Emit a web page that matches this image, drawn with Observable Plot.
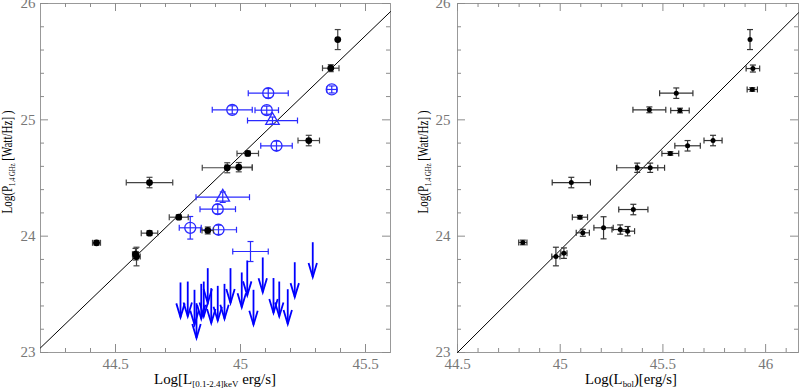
<!DOCTYPE html>
<html><head><meta charset="utf-8">
<script src="https://cdn.jsdelivr.net/npm/d3@7"></script>
<script src="https://cdn.jsdelivr.net/npm/@observablehq/plot@0.6"></script>
<style>
body{margin:0;background:#fff;}
#wrap{display:flex;width:807px;height:389px;overflow:hidden;}
#wrap svg{overflow:visible;}
</style></head><body><div id="wrap"></div>
<script>
// ---------- data: left panel (X-ray luminosity) ----------
const leftBlackX  = [45.389, 45.361, 45.273, 45.029, 44.947, 44.993, 44.636, 44.753, 44.636, 44.424, 44.580, 44.584, 44.869];
const leftBlackY  = [25.690, 25.444, 24.822, 24.711, 24.588, 24.593, 24.461, 24.163, 24.026, 23.943, 23.845, 23.825, 24.049];
const leftBlackXe = [0, 0.033, 0.043, 0.043, 0.100, 0.054, 0.093, 0.038, 0.033, 0.016, 0.012, 0.015, 0.023];
const leftBlackYe = [0.086, 0.030, 0.045, 0.020, 0.043, 0.040, 0.045, 0.020, 0.020, 0.020, 0.050, 0.080, 0.030];

const blueCircX  = [45.365, 45.111, 44.967, 45.105, 45.144, 44.909, 44.799, 44.912];
const blueCircY  = [25.261, 25.229, 25.086, 25.083, 24.777, 24.232, 24.072, 24.055];
const blueCircXe = [0.020, 0.080, 0.080, 0.047, 0.063, 0.071, 0.044, 0.072];
const blueCircYe = [0.030, 0.040, 0.035, 0.035, 0.040, 0.040, 0.097, 0.040];

const blueTriX  = [45.128, 44.929];
const blueTriY  = [24.994, 24.335];
const blueTriXe = [0.100, 0.107];
const blueTriYe = [0.030, 0.045];

const blueCrossX  = [45.040];
const blueCrossY  = [23.868];
const blueCrossXe = [0.071];
const blueCrossYe = [0.086];

const upperLimX = [44.760, 44.789, 44.816, 44.824, 44.843, 44.853, 44.869, 44.883, 44.909, 44.936, 44.960, 45.005, 45.027, 45.052, 45.089, 45.132, 45.155, 45.189, 45.217, 45.289];
const upperLimY = [23.602, 23.610, 23.539, 23.424, 23.590, 23.610, 23.725, 23.553, 23.573, 23.590, 23.725, 23.688, 23.791, 23.539, 23.817, 23.640, 23.610, 23.544, 23.776, 23.948];

const fitLeftX = [44.2, 45.6];
const fitLeftY = [23.04, 25.93];

// ---------- data: right panel (bolometric luminosity) ----------
const rightX  = [45.924, 45.938, 45.935, 45.565, 45.434, 45.583, 45.744, 45.620, 45.536, 45.375, 45.438, 45.054, 45.356, 45.096, 45.110, 45.211, 45.292, 45.328, 44.818, 44.979, 45.018];
const rightY  = [25.690, 25.441, 25.261, 25.229, 25.086, 25.080, 24.822, 24.777, 24.711, 24.588, 24.588, 24.461, 24.229, 24.163, 24.029, 24.072, 24.057, 24.043, 23.946, 23.825, 23.854];
const rightXe = [0, 0.033, 0.025, 0.081, 0.080, 0.045, 0.044, 0.062, 0.041, 0.100, 0.070, 0.093, 0.071, 0.037, 0.032, 0.047, 0.040, 0.034, 0.020, 0.020, 0.015];
const rightYe = [0.086, 0.030, 0.015, 0.045, 0.025, 0.020, 0.045, 0.045, 0.015, 0.040, 0.040, 0.045, 0.045, 0.015, 0.030, 0.095, 0.040, 0.040, 0.020, 0.080, 0.045];

const fitRightX = [44.5, 46.16];
const fitRightY = [23.0, 25.92];

// ---------- axes ----------
const leftXDomain = [44.2, 45.6];
const rightXDomain = [44.5, 46.16];
const yDomain = [23, 26];
const leftXMajor = [44.5, 45, 45.5];
const leftXMinor = [44.3, 44.4, 44.6, 44.7, 44.8, 44.9, 45.1, 45.2, 45.3, 45.4];
const rightXMajor = [44.5, 45, 45.5, 46];
const rightXMinor = [44.6, 44.7, 44.8, 44.9, 45.1, 45.2, 45.3, 45.4, 45.6, 45.7, 45.8, 45.9, 46.1];
const yMajor = [23, 24, 25, 26];
const yMinor = [23.2, 23.4, 23.6, 23.8, 24.2, 24.4, 24.6, 24.8, 25.2, 25.4, 25.6, 25.8];

const zip = (x, y, xe, ye) => x.map((v, i) => ({x: v, y: y[i], xe: xe ? xe[i] : 0, ye: ye ? ye[i] : 0}));

// custom glyphs
const rOf = s => Math.sqrt(s / Math.PI);
const capV = {draw(c, s) { const r = rOf(s); c.moveTo(0, -r); c.lineTo(0, r); }};
const capH = {draw(c, s) { const r = rOf(s); c.moveTo(-r, 0); c.lineTo(r, 0); }};
const vee  = {draw(c, s) { const r = rOf(s); c.moveTo(-0.3 * r, -r); c.lineTo(0, 0); c.lineTo(0.3 * r, -r); }};

function errMarks(rows, color, sw, cap) {
  const hx = rows.filter(d => d.xe > 0), vy = rows.filter(d => d.ye > 0);
  return [
    Plot.link(hx, {x1: d => d.x - d.xe, x2: d => d.x + d.xe, y1: "y", y2: "y", stroke: color, strokeWidth: sw}),
    Plot.link(vy, {x1: "x", x2: "x", y1: d => d.y - d.ye, y2: d => d.y + d.ye, stroke: color, strokeWidth: sw}),
    Plot.dot(hx.flatMap(d => [{x: d.x - d.xe, y: d.y}, {x: d.x + d.xe, y: d.y}]), {x: "x", y: "y", symbol: capV, r: cap, stroke: color, strokeWidth: sw, fill: "none"}),
    Plot.dot(vy.flatMap(d => [{x: d.x, y: d.y - d.ye}, {x: d.x, y: d.y + d.ye}]), {x: "x", y: "y", symbol: capH, r: cap, stroke: color, strokeWidth: sw, fill: "none"})
  ];
}

// frame with inward ticks on all four sides; pxX/pxY = pixels per data unit
function frameMarks(xDomain, xMajor, xMinor, yPad, pxX, pxY) {
  const g = "#8c8c8c", font = {fontFamily: "Liberation Serif", fontSize: 15};
  const [x0, x1] = xDomain, [y0, y1] = yDomain;
  const tx = (vals, yv, dir, len) => Plot.ruleX(vals, {x: d => d, y1: yv, y2: yv + dir * len / pxY, stroke: g, strokeWidth: 1});
  const ty = (vals, xv, dir, len) => Plot.ruleY(vals, {y: d => d, x1: xv, x2: xv + dir * len / pxX, stroke: g, strokeWidth: 1});
  return [
    Plot.frame({stroke: "#999"}),
    tx(xMajor, y0, 1, 8), tx(xMinor, y0, 1, 4),
    tx(xMajor, y1, -1, 8), tx(xMinor, y1, -1, 4),
    ty(yMajor, x0, 1, 8), ty(yMinor, x0, 1, 4),
    ty(yMajor, x1, -1, 8), ty(yMinor, x1, -1, 4),
    Plot.axisX(xMajor, {anchor: "bottom", tickSize: 0, tickPadding: 6, tickFormat: d => String(d), color: "#777", label: null, ...font}),
    Plot.axisY(yMajor, {anchor: "left", tickSize: 0, tickPadding: yPad, tickFormat: d => String(d), color: "#777", label: null, ...font})
  ];
}

const blue = "#2a2aff";
const arrowLen = 0.3;
const H = 389, MT = 3, MB = 37;
const pxY = (H - MT - MB) / (yDomain[1] - yDomain[0]);

const LW = 400, LML = 40, LMR = 10;
const leftPxX = (LW - LML - LMR) / (leftXDomain[1] - leftXDomain[0]);
const leftPlot = Plot.plot({
  width: LW, height: H, marginLeft: LML, marginRight: LMR, marginTop: MT, marginBottom: MB,
  x: {domain: leftXDomain, axis: null}, y: {domain: yDomain, axis: null},
  marks: [
    ...frameMarks(leftXDomain, leftXMajor, leftXMinor, 5, leftPxX, pxY),
    Plot.line(zip(fitLeftX, fitLeftY), {x: "x", y: "y", stroke: "#000", strokeWidth: 1}),
    ...errMarks(zip(blueCircX, blueCircY, blueCircXe, blueCircYe), blue, 1.2, 3),
    ...errMarks(zip(blueTriX, blueTriY, blueTriXe, blueTriYe), blue, 1.2, 3),
    ...errMarks(zip(blueCrossX, blueCrossY, blueCrossXe, blueCrossYe), blue, 1.2, 3),
    Plot.dot(zip(blueCircX, blueCircY), {x: "x", y: "y", r: 5.5, stroke: blue, strokeWidth: 1.3, fill: "none"}),
    Plot.dot(zip(blueTriX, blueTriY), {x: "x", y: "y", symbol: "triangle", r: 5, stroke: blue, strokeWidth: 1.3, fill: "none"}),
    Plot.link(zip(upperLimX, upperLimY), {x1: "x", x2: "x", y1: "y", y2: d => d.y - arrowLen, stroke: "#0000ff", strokeWidth: 1.8}),
    Plot.dot(zip(upperLimX, upperLimY), {x: "x", y: d => d.y - arrowLen, symbol: vee, r: 14, stroke: "#0000ff", strokeWidth: 1.8, fill: "none"}),
    ...errMarks(zip(leftBlackX, leftBlackY, leftBlackXe, leftBlackYe), "#444", 1.2, 3),
    Plot.dot(zip(leftBlackX, leftBlackY), {x: "x", y: "y", r: 3.4, fill: "#000"})
  ]
});

const RW = 407, RML = 57, RMR = 9;
const rightPxX = (RW - RML - RMR) / (rightXDomain[1] - rightXDomain[0]);
const rightPlot = Plot.plot({
  width: RW, height: H, marginLeft: RML, marginRight: RMR, marginTop: MT, marginBottom: MB,
  x: {domain: rightXDomain, axis: null}, y: {domain: yDomain, axis: null},
  marks: [
    ...frameMarks(rightXDomain, rightXMajor, rightXMinor, 7, rightPxX, pxY),
    Plot.line(zip(fitRightX, fitRightY), {x: "x", y: "y", stroke: "#000", strokeWidth: 1}),
    ...errMarks(zip(rightX, rightY, rightXe, rightYe), "#333", 1.2, 3),
    Plot.dot(zip(rightX, rightY), {x: "x", y: "y", r: 2.5, fill: "#000"})
  ]
});

function addTitle(svg, x, y, rot, parts, len) {
  const t = d3.select(svg).append("text")
    .attr("transform", `translate(${x},${y}) rotate(${rot})`)
    .attr("text-anchor", "middle")
    .attr("font-family", "Liberation Serif").attr("font-size", 15).attr("fill", "#000")
    .attr("textLength", len).attr("lengthAdjust", "spacingAndGlyphs");
  let cur = 0;
  for (const [txt, sub] of parts) {
    const off = sub ? 3 : 0;
    t.append("tspan").attr("dy", off - cur).attr("font-size", sub ? 9 : 15).text(txt);
    cur = off;
  }
}

addTitle(leftPlot, 215, 384, 0, [["Log[L", false], ["[0.1-2.4]keV", true], [" erg/s]", false]], 122);
addTitle(leftPlot, 12, 162, -90, [["Log(P", false], ["1.4 GHz", true], [" [Watt/Hz] )", false]], 103);
addTitle(rightPlot, 231, 384, 0, [["Log(L", false], ["bol", true], [")[erg/s]", false]], 92);
addTitle(rightPlot, 28, 162, -90, [["Log(P", false], ["1.4 GHz", true], [" [Watt/Hz] )", false]], 103);

const wrap = document.getElementById("wrap");
wrap.appendChild(leftPlot);
wrap.appendChild(rightPlot);
</script>
</body></html>
